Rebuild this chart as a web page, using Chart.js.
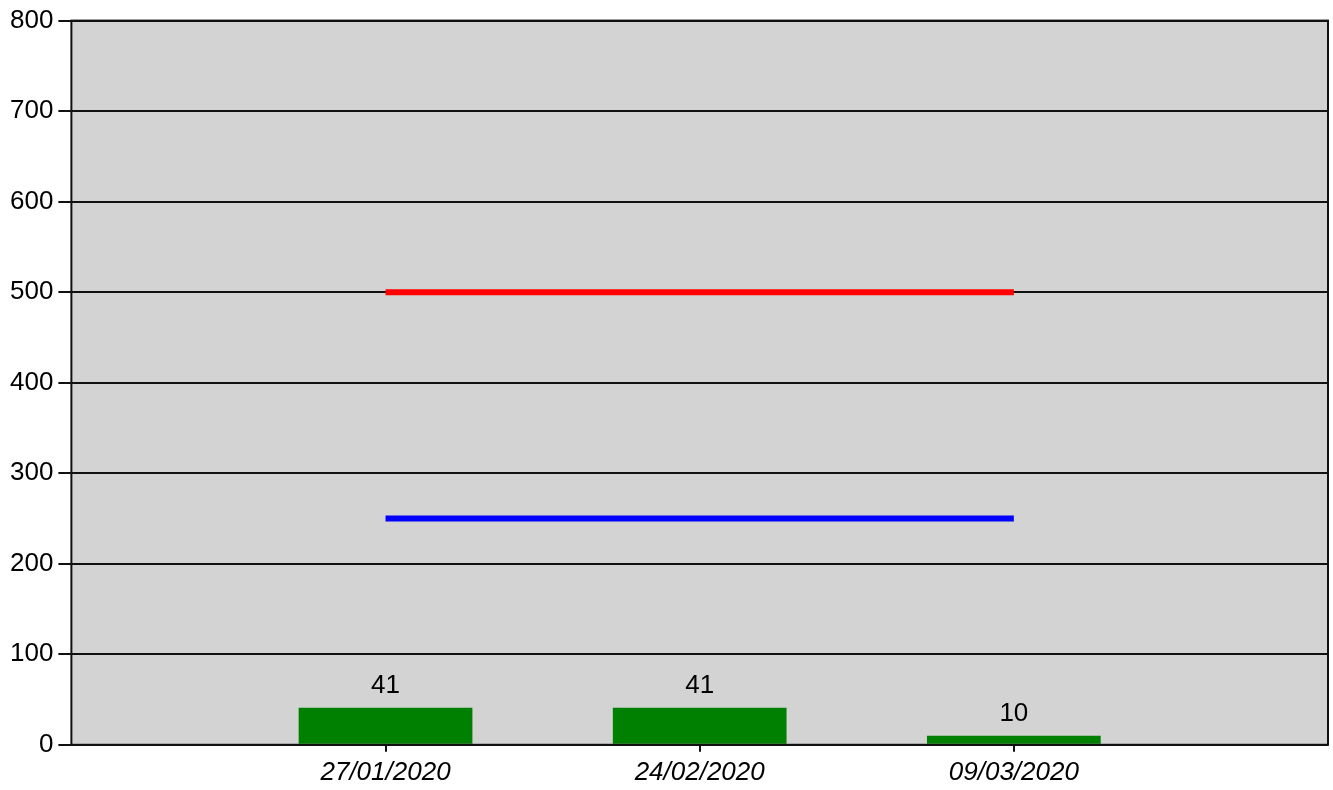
<!DOCTYPE html>
<html>
<head>
<meta charset="utf-8">
<script src="https://cdn.jsdelivr.net/npm/chart.js@4/dist/chart.umd.min.js"></script>
<style>
  html, body { margin: 0; padding: 0; background: #fff; }
  #wrap { width: 1333px; height: 790px; }
</style>
</head>
<body>
<div id="wrap"><canvas id="chart"></canvas></div>
<script>
// categories (empty slots at both ends give the extra half-step of space)
const dates = ['', '27/01/2020', '24/02/2020', '09/03/2020', ''];
const barValues = [null, 41, 41, 10, null];
const redLine = [null, 500, 500, 500, null];
const blueLine = [null, 250, 250, 250, null];
const yTicks = [0, 100, 200, 300, 400, 500, 600, 700, 800];

// gray plot background + frame
const plotFrame = {
    id: 'plotFrame',
    beforeDraw(chart) {
        const a = chart.chartArea, c = chart.ctx;
        c.save();
        c.fillStyle = '#d3d3d3';
        c.fillRect(a.left, a.top, a.right - a.left, a.bottom - a.top);
        c.restore();
    },
    afterDraw(chart) {
        const a = chart.chartArea, c = chart.ctx;
        c.save();
        c.strokeStyle = '#111';
        c.lineWidth = 2;
        c.strokeRect(a.left, a.top, a.right - a.left, a.bottom - a.top);
        c.restore();
    }
};

// value labels above the bars
const barLabels = {
    id: 'barLabels',
    afterDatasetsDraw(chart) {
        const c = chart.ctx;
        const meta = chart.getDatasetMeta(2);
        c.save();
        c.font = '26px "Liberation Sans", Arial, sans-serif';
        c.fillStyle = '#000';
        c.textAlign = 'center';
        c.textBaseline = 'bottom';
        meta.data.forEach((bar, i) => {
            const v = barValues[i];
            if (v == null) return;
            c.fillText(String(v), bar.x, bar.y - 9);
        });
        c.restore();
    }
};

new Chart(document.getElementById('chart'), {
    data: {
        labels: dates,
        datasets: [
            {
                type: 'line',
                data: redLine,
                borderColor: '#ff0000',
                borderWidth: 6,
                pointRadius: 0,
                order: 1
            },
            {
                type: 'line',
                data: blueLine,
                borderColor: '#0000ff',
                borderWidth: 6,
                pointRadius: 0,
                order: 1
            },
            {
                type: 'bar',
                data: barValues,
                backgroundColor: '#008000',
                categoryPercentage: 1,
                barPercentage: 0.553,
                order: 2
            }
        ]
    },
    options: {
        responsive: true,
        maintainAspectRatio: false,
        animation: false,
        layout: { padding: { left: 5, right: 4, top: 6, bottom: -3 } },
        plugins: {
            legend: { display: false },
            tooltip: { enabled: false }
        },
        scales: {
            x: {
                type: 'category',
                offset: false,
                grid: {
                    offset: false,
                    drawOnChartArea: false,
                    drawTicks: true,
                    tickLength: 7,
                    lineWidth: 2,
                    color: ctx => (ctx.index === 0 || ctx.index === dates.length - 1) ? 'rgba(0,0,0,0)' : '#111'
                },
                border: { display: false },
                ticks: {
                    autoSkip: false,
                    maxRotation: 0,
                    padding: 5,
                    color: '#000',
                    font: { family: '"Liberation Sans", Arial, sans-serif', size: 26, style: 'italic' }
                }
            },
            y: {
                min: 0,
                max: 800,
                afterBuildTicks: axis => { axis.ticks = yTicks.map(v => ({ value: v })); },
                grid: {
                    color: '#111',
                    lineWidth: 2,
                    drawTicks: true,
                    tickLength: 13
                },
                border: { display: false },
                ticks: {
                    padding: 5,
                    color: '#000',
                    font: { family: '"Liberation Sans", Arial, sans-serif', size: 26 }
                }
            }
        }
    },
    plugins: [plotFrame, barLabels]
});
</script>
</body>
</html>
